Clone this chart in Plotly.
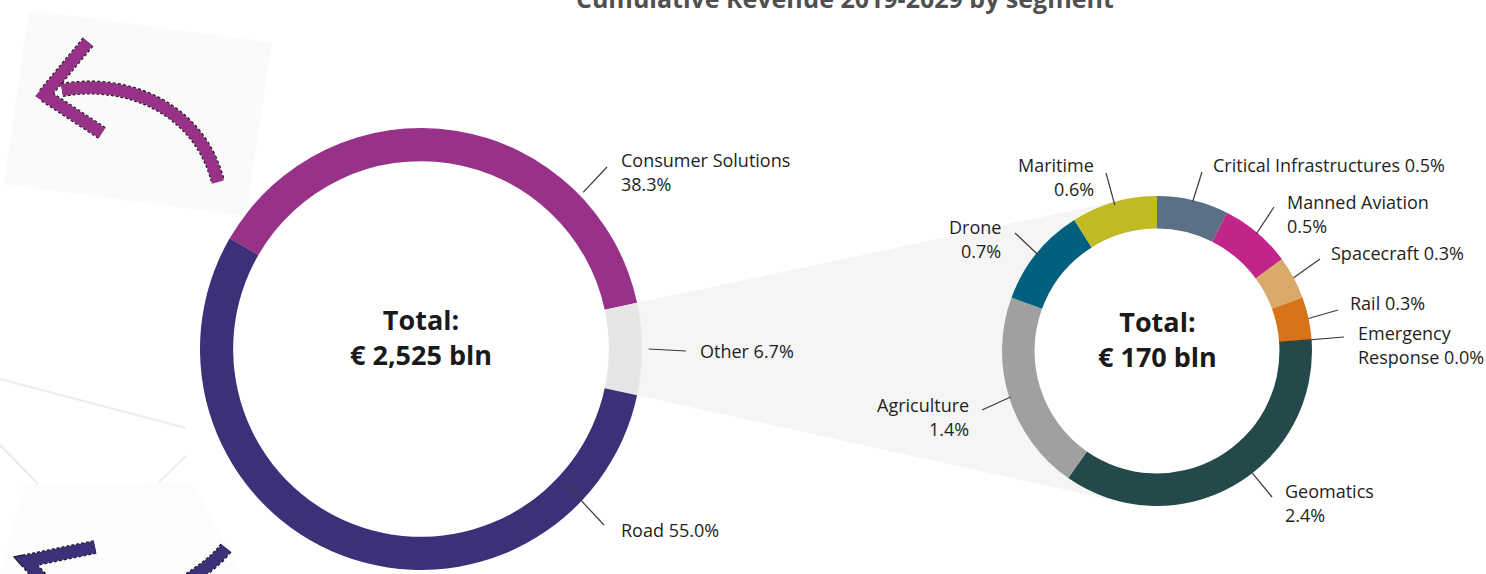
"""Cumulative revenue 2019-2029 by segment: main split plus breakdown of 'Other'."""
import math
import plotly.graph_objects as go

W, H = 1486, 574

TITLE = "Cumulative Revenue 2019-2029 by segment"

# main split, share of cumulative revenue (%)
main_labels = ["Consumer Solutions", "Other", "Road"]
main_values = [38.3, 6.7, 55.0]
main_colors = ["#983288", "#e6e6e6", "#3d2f78"]
main_total = "€ 2,525 bln"

# breakdown of the "Other" slice (% of total revenue)
other_labels = ["Critical Infrastructures", "Manned Aviation", "Spacecraft", "Rail",
                "Emergency Response", "Geomatics", "Agriculture", "Drone", "Maritime"]
other_values = [0.5, 0.5, 0.3, 0.3, 0.0, 2.4, 1.4, 0.7, 0.6]
other_colors = ["#5a7086", "#c2248a", "#d9aa6a", "#d87319", "#b03020",
                "#24494b", "#a0a0a0", "#00607e", "#c0ba25"]
other_total = "€ 170 bln"

FONT = "Open Sans"
TXT = "#231f20"
LINE = "#3a3a3a"

# donut geometry (pixels)
L_C, L_R, L_HOLE = (421, 349), 221, 0.85
R_C, R_R, R_HOLE = (1157, 351), 155, 0.79

# label placement: leader angle (None = slice middle), leader start radius factor,
# leader end, text x, text side, first line y, words of label on first line (None = one line)
MAIN_LAYOUT = {
    "Consumer Solutions": dict(angle=46, rf=1.02, end=(607, 167), tx=619, side="left", ty=160, split=2),
    "Other": dict(angle=None, rf=1.03, end=(686, 351), tx=698, side="left", ty=351, split=None),
    "Road": dict(angle=133, rf=0.90, end=(604, 525), tx=619, side="left", ty=530, split=None),
}
OTHER_LAYOUT = {
    "Critical Infrastructures": dict(angle=None, rf=0.99, end=(1202, 172), tx=1211, side="left", ty=165, split=None),
    "Manned Aviation": dict(angle=None, rf=0.99, end=(1274, 207), tx=1285, side="left", ty=202, split=2),
    "Spacecraft": dict(angle=None, rf=1.0, end=(1320, 259), tx=1329, side="left", ty=253, split=None),
    "Rail": dict(angle=None, rf=1.0, end=(1338, 310), tx=1348, side="left", ty=303, split=None),
    "Emergency Response": dict(angle=None, rf=0.79, end=(1344, 337), tx=1356, side="left", ty=333, split=1),
    "Geomatics": dict(angle=142, rf=1.0, end=(1272, 497), tx=1283, side="left", ty=491, split=1),
    "Agriculture": dict(angle=None, rf=0.99, end=(982, 410), tx=971, side="right", ty=405, split=1),
    "Drone": dict(angle=None, rf=0.99, end=(1015, 233), tx=1003, side="right", ty=227, split=1),
    "Maritime": dict(angle=None, rf=0.98, end=(1106, 173), tx=1096, side="right", ty=165, split=1),
}
LINE_GAP = 24


def polar(c, r, deg):
    a = math.radians(deg)
    return c[0] + r * math.sin(a), c[1] - r * math.cos(a)


def slice_angles(values, rotation):
    total = sum(values)
    out, cur = [], rotation
    for v in values:
        span = v / total * 360
        out.append((cur, cur + span))
        cur += span
    return out


def domain(c, r):
    return dict(x=[(c[0] - r) / W, (c[0] + r) / W], y=[1 - (c[1] + r) / H, 1 - (c[1] - r) / H])


def tangent_point(p, c, r, upper):
    dx, dy = p[0] - c[0], p[1] - c[1]
    d = math.hypot(dx, dy)
    base = math.atan2(dy, dx)
    alpha = math.acos(r / d)
    t1 = (c[0] + r * math.cos(base + alpha), c[1] + r * math.sin(base + alpha))
    t2 = (c[0] + r * math.cos(base - alpha), c[1] + r * math.sin(base - alpha))
    return min(t1, t2, key=lambda t: t[1]) if upper else max(t1, t2, key=lambda t: t[1])


# rotate the main donut so that "Other" faces the breakdown donut
oi = main_labels.index("Other")
main_rot = 90 - (sum(main_values[:oi]) + main_values[oi] / 2) / sum(main_values) * 360
main_ang = slice_angles(main_values, main_rot)
other_ang = slice_angles(other_values, 0)

fig = go.Figure()
fig.add_trace(go.Pie(
    labels=main_labels, values=main_values, hole=L_HOLE, sort=False,
    direction="clockwise", rotation=main_rot, textinfo="none",
    marker=dict(colors=main_colors, line=dict(width=0)),
    domain=domain(L_C, L_R), showlegend=False, hoverinfo="label+percent",
))
fig.add_trace(go.Pie(
    labels=other_labels, values=other_values, hole=R_HOLE, sort=False,
    direction="clockwise", rotation=0, textinfo="none",
    marker=dict(colors=other_colors, line=dict(width=0)),
    domain=domain(R_C, R_R), showlegend=False, hoverinfo="label+value",
))

shapes = []
annotations = []

# decorative background pieces
shapes.append(dict(type="path", path="M 29 10 L 272 43 L 246 216 L 4 184 Z",
                   fillcolor="#fafafa", line=dict(width=0), layer="below"))
for p in ["M 0 379 L 186 428", "M 0 445 L 38 484", "M 157 484 L 186 456"]:
    shapes.append(dict(type="path", path=p, line=dict(color="#ececec", width=2), layer="below"))
shapes.append(dict(type="path", path="M 25 484 L 192 482 L 240 574 L 0 574 Z",
                   fillcolor="#fcfcfc", line=dict(width=0), layer="below"))
for path, col in [("M 62 90 C 130 78 200 110 218 182", "#983288"),
                  ("M 88 42 L 44 95 L 102 133", "#983288"),
                  ("M 95 547 L 26 561 L 60 600", "#3d2f78"),
                  ("M 226 548 C 215 562 200 572 185 582", "#3d2f78")]:
    shapes.append(dict(type="path", path=path, line=dict(color="#1a1a1a", width=14, dash="3px,2px"), layer="below"))
    shapes.append(dict(type="path", path=path, line=dict(color=col, width=12), layer="below"))

# connector wedge from "Other" to the breakdown donut
o0, o1 = main_ang[oi]
p1 = polar(L_C, L_R, o0)
p2 = polar(L_C, L_R, o1)
t1 = tangent_point(p1, R_C, R_R, upper=True)
t2 = tangent_point(p2, R_C, R_R, upper=False)
a1 = math.degrees(math.atan2(t1[0] - R_C[0], -(t1[1] - R_C[1]))) % 360
a2 = math.degrees(math.atan2(t2[0] - R_C[0], -(t2[1] - R_C[1]))) % 360
rm = R_R * (1 + R_HOLE) / 2
pts = [p1, t1]
n = 40
for k in range(n + 1):
    a = a1 + (a2 - a1) * k / n
    pts.append(polar(R_C, rm, a))
pts += [t2, p2]
wedge = "M " + " L ".join(f"{x:.1f} {y:.1f}" for x, y in pts) + " Z"
shapes.append(dict(type="path", path=wedge, fillcolor="#f5f5f5", line=dict(width=0), layer="below"))


def add_labels(labels, values, angles, center, radius, layout):
    for lab, val, (s, e) in zip(labels, values, angles):
        cfg = layout[lab]
        ang = cfg["angle"] if cfg["angle"] is not None else (s + e) / 2
        x0, y0 = polar(center, radius * cfg["rf"], ang)
        x1, y1 = cfg["end"]
        shapes.append(dict(type="line", x0=x0, y0=y0, x1=x1, y1=y1,
                           line=dict(color=LINE, width=1.2), layer="above"))
        pct = f"{val:.1f}%"
        if cfg["split"] is None:
            lines = [f"{lab} {pct}"]
        else:
            words = lab.split(" ")
            first = " ".join(words[:cfg["split"]])
            rest = " ".join(words[cfg["split"]:] + [pct])
            lines = [first, rest]
        for i, t in enumerate(lines):
            annotations.append(dict(x=cfg["tx"], y=cfg["ty"] + i * LINE_GAP, text=t,
                                    xref="x", yref="y", showarrow=False,
                                    xanchor=cfg["side"], yanchor="middle",
                                    font=dict(family=FONT, size=18, color=TXT)))


add_labels(main_labels, main_values, main_ang, L_C, L_R, MAIN_LAYOUT)
add_labels(other_labels, other_values, other_ang, R_C, R_R, OTHER_LAYOUT)

# centre totals
for c, total in [(L_C, main_total), (R_C, other_total)]:
    annotations.append(dict(x=c[0], y=c[1] - 12, text=f"<b>Total:<br>{total}</b>", xref="x", yref="y",
                            showarrow=False, yanchor="middle",
                            font=dict(family=FONT, size=27, color="#1a1a1a")))

# title, mostly cut off by the top edge as in the source
annotations.append(dict(x=845 / W, y=1 - 17 / H, xref="paper", yref="paper", text=f"<b>{TITLE}</b>",
                        showarrow=False, xanchor="center", yanchor="bottom",
                        font=dict(family=FONT, size=25, color="#505050")))

fig.update_layout(
    width=W, height=H,
    margin=dict(l=0, r=0, t=0, b=0),
    paper_bgcolor="white", plot_bgcolor="white",
    xaxis=dict(range=[0, W], visible=False, fixedrange=True),
    yaxis=dict(range=[H, 0], visible=False, fixedrange=True),
    shapes=shapes, annotations=annotations,
)

# the page's default body margin would shift the figure by 8px
fig.write_html("out.html", config={"displayModeBar": False},
               post_script="document.body.style.margin='0';")
